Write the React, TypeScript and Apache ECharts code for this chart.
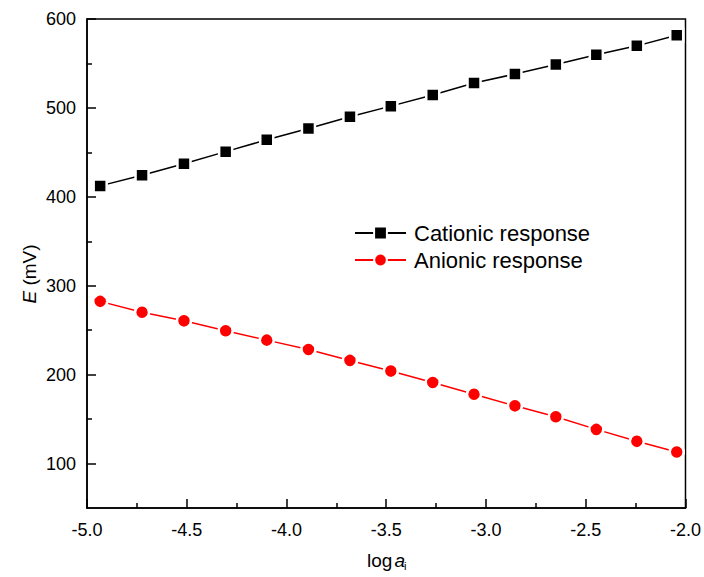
import React, { useEffect, useRef } from "react";
import * as echarts from "echarts";

const logA = [-4.934, -4.724, -4.514, -4.305, -4.099, -3.89, -3.682, -3.477, -3.267, -3.06, -2.855, -2.65, -2.447, -2.244, -2.044];
const cationic = [412.3, 424.2, 437.3, 450.8, 464.2, 476.9, 490.0, 502.0, 514.6, 528.0, 538.1, 548.8, 559.7, 569.8, 581.8];
const anionic = [282.4, 270.1, 260.5, 249.3, 238.8, 228.3, 216.0, 204.0, 191.1, 178.0, 164.9, 152.6, 138.4, 125.0, 113.0];
const seriesNames = ["Cationic response", "Anionic response"];
const yMajorTicks = [100, 200, 300, 400, 500, 600];
const yMinorTicks = [150, 250, 350, 450, 550];

const FONT = "Arial, 'Liberation Sans', Helvetica, sans-serif";

export default function App() {
  const ref = useRef<HTMLDivElement>(null);
  useEffect(() => {
    if (!ref.current) return;
    const chart = echarts.init(ref.current, undefined, { renderer: "svg" });
    const axisLine = { show: true, lineStyle: { color: "#000", width: 1.5 } };
    chart.setOption({
      animation: false,
      backgroundColor: "#fff",
      textStyle: { fontFamily: FONT },
      grid: {
        left: 87,
        right: 17,
        top: 19,
        bottom: 69,
        show: true,
        borderColor: "#000",
        borderWidth: 1.5,
        backgroundColor: "transparent",
      },
      legend: {
        orient: "vertical",
        left: 354,
        top: 222,
        padding: 0,
        itemWidth: 51,
        itemHeight: 16,
        itemGap: 5,
        textStyle: { fontSize: 22, color: "#000", fontFamily: FONT, padding: [0, 0, 0, 3] },
        data: seriesNames,
      },
      xAxis: {
        type: "value",
        min: -5,
        max: -2,
        interval: 0.5,
        axisLine,
        axisTick: { show: true, inside: true, length: 9, lineStyle: { color: "#000", width: 1.5 } },
        minorTick: { show: true, splitNumber: 2, length: 5, lineStyle: { color: "#000", width: 1.5 } },
        splitLine: { show: false },
        minorSplitLine: { show: false },
        axisLabel: {
          fontSize: 18,
          color: "#000",
          fontFamily: FONT,
          margin: 13,
          formatter: (v: number) => v.toFixed(1),
        },
      },
      yAxis: [
        {
          type: "value",
          min: 50,
          max: 600,
          position: "left",
          axisLine,
          axisTick: {
            show: true,
            inside: true,
            length: 9,
            customValues: yMajorTicks,
            lineStyle: { color: "#000", width: 1.5 },
          },
          splitLine: { show: false },
          axisLabel: {
            fontSize: 18,
            color: "#000",
            fontFamily: FONT,
            margin: 11,
            customValues: yMajorTicks,
          },
        },
        {
          type: "value",
          min: 50,
          max: 600,
          position: "left",
          offset: 0,
          axisLine: { show: false },
          axisTick: {
            show: true,
            inside: true,
            length: 5,
            customValues: yMinorTicks,
            lineStyle: { color: "#000", width: 1.5 },
          },
          splitLine: { show: false },
          axisLabel: { show: false },
        },
      ],
      series: [
        {
          name: seriesNames[0],
          type: "line",
          yAxisIndex: 0,
          data: logA.map((x, i) => [x, cationic[i]]),
          symbol: "rect",
          symbolSize: 13,
          lineStyle: { color: "#000", width: 1.5 },
          itemStyle: { color: "#000", borderColor: "#fff", borderWidth: 2.5 },
        },
        {
          name: seriesNames[1],
          type: "line",
          yAxisIndex: 0,
          data: logA.map((x, i) => [x, anionic[i]]),
          symbol: "circle",
          symbolSize: 14,
          lineStyle: { color: "#ff0000", width: 1.5 },
          itemStyle: { color: "#ff0000", borderColor: "#fff", borderWidth: 2.5 },
        },
      ],
      graphic: [
        {
          type: "text",
          x: 29,
          y: 274,
          rotation: Math.PI / 2,
          style: {
            text: "{it|E} (mV)",
            fontSize: 19,
            fontFamily: FONT,
            fill: "#000",
            textAlign: "center",
            textVerticalAlign: "middle",
            rich: { it: { fontStyle: "italic", fontSize: 19, fontFamily: FONT, fill: "#000" } },
          },
        },
        {
          type: "text",
          x: 386,
          y: 560,
          style: {
            text: "log{it|a}",
            fontSize: 19,
            fontFamily: FONT,
            fill: "#000",
            textAlign: "center",
            textVerticalAlign: "middle",
            rich: { it: { fontStyle: "italic", fontSize: 19, fontFamily: FONT, fill: "#000", padding: [0, 0, 0, 2] } },
          },
        },
        {
          type: "text",
          x: 404,
          y: 566,
          style: {
            text: "i",
            fontSize: 11,
            fontFamily: FONT,
            fill: "#000",
            textAlign: "left",
            textVerticalAlign: "middle",
          },
        },
      ],
    });
    return () => chart.dispose();
  }, []);
  return (
    <div
      ref={ref}
      style={{ position: "absolute", left: 0, top: 0, width: 704, height: 577, background: "#fff" }}
    />
  );
}
